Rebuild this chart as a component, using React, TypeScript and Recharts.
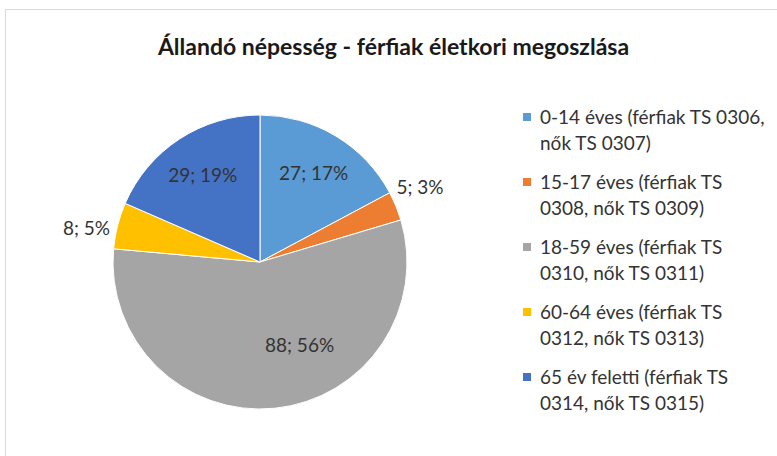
import { PieChart, Pie, Cell, Legend } from "recharts";

// kategóriák (jelmagyarázat két sorban, ahogy az eredetiben)
const legendLines: [string, string][] = [
  ["0-14 éves (férfiak TS 0306,", "nők TS 0307)"],
  ["15-17 éves (férfiak TS", "0308, nők TS 0309)"],
  ["18-59 éves (férfiak TS", "0310, nők TS 0311)"],
  ["60-64 éves (férfiak TS", "0312, nők TS 0313)"],
  ["65 év feletti (férfiak TS", "0314, nők TS 0315)"],
];
const categories = legendLines.map((l) => l.join(" "));
const values = [27, 5, 88, 8, 29];
const colors = ["#5B9BD5", "#ED7D31", "#A5A5A5", "#FFC000", "#4472C4"];

const total = values.reduce((a, b) => a + b, 0);

// százalékok kerekítése úgy, hogy 100 legyen az összeg (mint az Excelben)
function roundedPercents(vals: number[]) {
  const raw = vals.map((v) => (v / total) * 100);
  const floors = raw.map(Math.floor);
  let rest = 100 - floors.reduce((a, b) => a + b, 0);
  const order = raw
    .map((r, i) => ({ i, frac: r - Math.floor(r) }))
    .sort((a, b) => b.frac - a.frac);
  for (const o of order) {
    if (rest <= 0) break;
    floors[o.i] += 1;
    rest--;
  }
  return floors;
}
const percents = roundedPercents(values);

const data = categories.map((name, i) => ({ name, value: values[i], pct: percents[i] }));

const FONT = "Lato, 'Open Sans', sans-serif";
const RAD = Math.PI / 180;

function renderLabel(props: any) {
  const { cx, cy, midAngle, outerRadius, value, payload } = props;
  const share = value / total;
  // kis szeletek: kívül; nagy (>50%) szelet: kicsit elforgatva, mint az Excel "best fit"
  let angle = midAngle;
  let r = outerRadius * 0.71;
  if (share < 0.1) {
    angle = midAngle + 3;
    r = outerRadius + 30;
  } else if (share > 0.5) {
    angle = midAngle + 20;
    r = outerRadius * 0.62;
  }
  const x = cx + r * Math.cos(-angle * RAD);
  const y = cy + r * Math.sin(-angle * RAD);
  return (
    <text
      x={x}
      y={y}
      textAnchor="middle"
      dominantBaseline="central"
      fill="#333"
      fontSize={19}
      fontFamily={FONT}
    >
      {`${value}; ${payload.pct}%`}
    </text>
  );
}

function LegendContent() {
  return (
    <div style={{ fontFamily: FONT, fontSize: 19, color: "#333" }}>
      {legendLines.map((lines, i) => (
        <div key={i} style={{ position: "relative", paddingLeft: 17, marginBottom: 13, lineHeight: "26px" }}>
          <span
            style={{
              position: "absolute",
              left: 0,
              top: 9,
              width: 8,
              height: 8,
              background: colors[i],
            }}
          />
          <div style={{ whiteSpace: "nowrap" }}>{lines[0]}</div>
          <div style={{ whiteSpace: "nowrap" }}>{lines[1]}</div>
        </div>
      ))}
    </div>
  );
}

export default function App() {
  return (
    <div style={{ position: "absolute", left: 0, top: 0, width: 777, height: 456, background: "#fff", overflow: "hidden" }}>
      <div
        style={{
          position: "absolute",
          left: 5,
          top: 9,
          right: 0,
          bottom: 0,
          borderLeft: "1px solid #d9d9d9",
          borderTop: "1px solid #d9d9d9",
        }}
      />
      <div
        style={{
          position: "absolute",
          top: 31,
          left: 0,
          width: 787,
          textAlign: "center",
          fontFamily: FONT,
          fontWeight: 700,
          fontSize: 23,
          lineHeight: "30px",
          color: "#1a1a1a",
        }}
      >
        Állandó népesség - férfiak életkori megoszlása
      </div>
      <PieChart
        width={777}
        height={456}
        margin={{ top: 0, right: 0, bottom: 0, left: 0 }}
        style={{ position: "absolute", left: 0, top: 0 }}
      >
        <Pie
          data={data}
          dataKey="value"
          nameKey="name"
          cx={260}
          cy={262}
          outerRadius={147}
          startAngle={90}
          endAngle={-270}
          stroke="#fff"
          strokeWidth={1}
          label={renderLabel}
          labelLine={false}
          isAnimationActive={false}
        >
          {data.map((_, i) => (
            <Cell key={i} fill={colors[i]} />
          ))}
        </Pie>
        <Legend
          layout="vertical"
          content={<LegendContent />}
          wrapperStyle={{ position: "absolute", left: 523, top: 104, width: 254 }}
        />
      </PieChart>
    </div>
  );
}
